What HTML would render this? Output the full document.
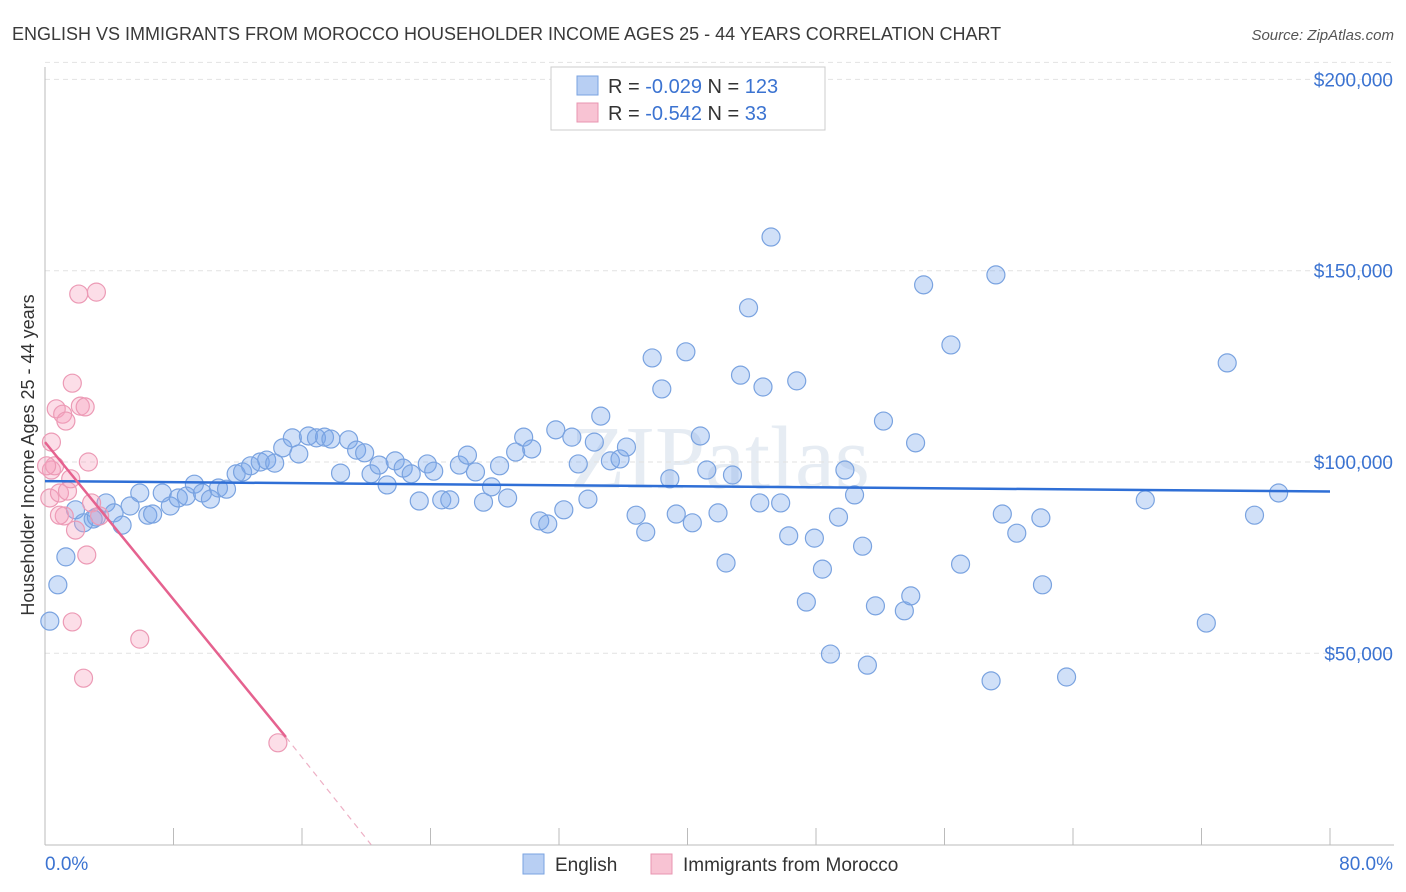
<!DOCTYPE html>
<html><head><meta charset="utf-8"><style>
body{margin:0;background:#fff;font-family:"Liberation Sans",sans-serif;}
#wrap{position:relative;width:1406px;height:892px;overflow:hidden;}
</style></head><body>
<div id="wrap">
<svg id="chart" width="1406" height="892" xmlns="http://www.w3.org/2000/svg">
<text x="12" y="40" font-size="18" fill="#3a3a3a">ENGLISH VS IMMIGRANTS FROM MOROCCO HOUSEHOLDER INCOME AGES 25 - 44 YEARS CORRELATION CHART</text>
<text x="1394" y="40" font-size="15" fill="#555" text-anchor="end" font-style="italic">Source: ZipAtlas.com</text>
<text x="720" y="488" font-size="90" fill="#e6ecf3" text-anchor="middle" font-family="Liberation Serif,serif">ZIPatlas</text>
<text x="34" y="455" font-size="18" fill="#333" text-anchor="middle" transform="rotate(-90 34 455)">Householder Income Ages 25 - 44 years</text>
<g id="grid"></g><g id="axes"></g><g id="pts"></g><g id="trends"></g>
<g>
<rect x="551" y="67" width="274" height="63" fill="#fff" stroke="#ccc"/>
<rect x="577" y="76" width="21" height="19" fill="#b8cff3" stroke="#7aa3e0"/>
<rect x="577" y="103" width="21" height="19" fill="#f8c3d3" stroke="#e896b0"/>
<text x="608" y="93" font-size="20" fill="#333">R = <tspan fill="#3b73d1">-0.029</tspan>    N = <tspan fill="#3b73d1">123</tspan></text>
<text x="608" y="120" font-size="20" fill="#333">R = <tspan fill="#3b73d1">-0.542</tspan>    N =  <tspan fill="#3b73d1"> 33</tspan></text>
</g>
<g>
<rect x="523" y="854" width="21" height="20" fill="#b8cff3" stroke="#7aa3e0"/>
<text x="555" y="871" font-size="19" fill="#333">English</text>
<rect x="651" y="854" width="21" height="20" fill="#f8c3d3" stroke="#e896b0"/>
<text x="683" y="871" font-size="19" fill="#333">Immigrants from Morocco</text>
</g>
</svg>
</div>
<script>
const blueX=[0.3,0.8,1.3,1.9,2.4,3.0,3.2,3.8,4.3,4.8,5.3,5.9,6.4,6.7,7.3,7.8,8.3,8.8,9.3,9.8,10.3,10.8,11.3,11.9,12.3,12.8,13.4,13.8,14.3,14.8,15.4,15.8,16.4,16.9,17.4,17.8,18.4,18.9,19.4,19.9,20.3,20.8,21.3,21.8,22.3,22.8,23.3,23.8,24.2,24.7,25.2,25.8,26.3,26.8,27.3,27.8,28.3,28.8,29.3,29.8,30.3,30.8,31.3,31.8,32.3,32.8,33.2,33.8,34.2,34.6,35.2,35.8,36.2,36.8,37.4,37.8,38.4,38.9,39.3,39.9,40.3,40.8,41.2,41.9,42.4,42.8,43.3,43.8,44.5,44.7,45.2,45.8,46.3,46.8,47.4,47.9,48.4,48.9,49.4,49.8,50.4,50.9,51.2,51.7,52.2,53.5,53.9,54.2,54.7,56.4,57.0,58.9,59.2,59.6,60.5,62.0,62.1,63.6,68.5,72.3,73.6,75.3,76.8];
const blueY=[58.4,67.9,75.2,87.5,84.1,85.1,85.6,89.3,86.7,83.5,88.5,91.9,86.1,86.4,91.9,88.5,90.6,91.1,94.2,91.9,90.3,93.2,92.9,96.9,97.4,99.0,100,100.5,99.7,103.7,106.3,102.1,106.8,106.3,106.5,106.0,97.1,105.8,103.1,102.4,96.9,99.2,94.0,100.3,98.4,96.9,89.8,99.5,97.6,90.1,90.1,99.2,101.8,97.4,89.5,93.5,99.0,90.6,102.6,106.5,103.4,84.6,83.8,108.4,87.5,106.5,99.5,90.3,105.2,112.0,100.3,100.8,103.9,86.1,81.7,127.2,119.1,95.6,86.4,128.8,84.1,106.8,97.9,86.7,73.6,96.6,122.7,140.3,89.3,119.6,158.8,89.3,80.7,121.2,63.4,80.1,72.0,49.8,85.6,97.9,91.4,78.0,46.9,62.4,110.7,61.1,65.0,105.0,146.3,130.6,73.3,42.8,148.9,86.4,81.4,85.4,67.9,43.8,90.1,57.9,125.9,86.1,91.9];
const pinkX=[0.3,0.4,0.4,0.6,0.7,0.9,1.1,1.2,1.3,1.4,1.6,1.7,1.7,1.9,2.1,2.2,2.4,2.5,2.6,2.7,2.9,3.2,3.4,5.9,14.5,0.1,0.9];
const pinkY=[90.6,97.9,105.2,99.0,113.9,91.9,112.5,85.9,110.7,92.4,95.6,58.2,120.6,82.2,143.9,114.6,43.5,114.4,75.7,100,89.3,144.4,85.9,53.7,26.6,99.0,86.1];
const yTicks=[50000,100000,150000,200000];
const yTickLabels=["$50,000","$100,000","$150,000","$200,000"];
const xTicks=[0,8,16,24,32,40,48,56,64,72,80];
const blueTrend=[[0,95],[80,92.3]];
const pinkTrend=[[0,105.2],[15,28.1]];
const pinkDash=[[15,28.1],[20.3,0]];
const NS="http://www.w3.org/2000/svg";
const sx=v=>45+v*(1285/80);
const sy=k=>462-(k-100)*3.826;
function mk(tag,attrs,parent){const e=document.createElementNS(NS,tag);for(const k in attrs)e.setAttribute(k,attrs[k]);document.getElementById(parent).appendChild(e);return e;}
yTicks.forEach((t,i)=>{
 const y=sy(t/1000);
 const l=mk('line',{x1:45,x2:1394,y1:y,y2:y,stroke:'#e2e2e2','stroke-dasharray':'5,4'},'grid');
 
 
 const tx=mk('text',{x:1393,y:y+7,'font-size':19,fill:'#3b73d1','text-anchor':'end'},'axes');
 tx.textContent=yTickLabels[i];
 
 
});
const tl=mk('line',{x1:45,x2:1394,y1:sy(200)-17,y2:sy(200)-17,stroke:'#e2e2e2','stroke-dasharray':'5,4'},'grid');


const ya=mk('line',{x1:45,x2:45,y1:67,y2:845,stroke:'#bbb'},'axes');


const xa=mk('line',{x1:45,x2:1394,y1:845,y2:845,stroke:'#bbb'},'axes');


xTicks.forEach(t=>{
 const l=mk('line',{x1:sx(t),x2:sx(t),y1:828,y2:845,stroke:'#bbb'},'axes');
 
 
});
const x0=mk('text',{x:45,y:870,'font-size':19,fill:'#3b73d1'},'axes');x0.textContent=xTicks[0].toFixed(1)+'%';


const x1=mk('text',{x:1393,y:870,'font-size':19,fill:'#3b73d1','text-anchor':'end'},'axes');x1.textContent=xTicks[xTicks.length-1].toFixed(1)+'%';


blueX.forEach((x,i)=>{
 const c=mk('circle',{cx:sx(x),cy:sy(blueY[i]),r:9,fill:'rgba(120,165,235,0.35)',stroke:'#7aa3e0','stroke-width':1.2},'pts');
 
 
});
pinkX.forEach((x,i)=>{
 const c=mk('circle',{cx:sx(x),cy:sy(pinkY[i]),r:9,fill:'rgba(245,160,190,0.35)',stroke:'#ec9ab5','stroke-width':1.2},'pts');
 
 
});
const bt=mk('line',{x1:sx(blueTrend[0][0]),y1:sy(blueTrend[0][1]),x2:sx(blueTrend[1][0]),y2:sy(blueTrend[1][1]),stroke:'#2f6fd6','stroke-width':2.5},'trends');


const pt=mk('line',{x1:sx(pinkTrend[0][0]),y1:sy(pinkTrend[0][1]),x2:sx(pinkTrend[1][0]),y2:sy(pinkTrend[1][1]),stroke:'#e5628f','stroke-width':2.5},'trends');


const pd=mk('line',{x1:sx(pinkDash[0][0]),y1:sy(pinkDash[0][1]),x2:sx(pinkDash[1][0]),y2:sy(pinkDash[1][1]),stroke:'#eeb0c5','stroke-width':1.2,'stroke-dasharray':'6,5'},'trends');


</script>
</body></html>
